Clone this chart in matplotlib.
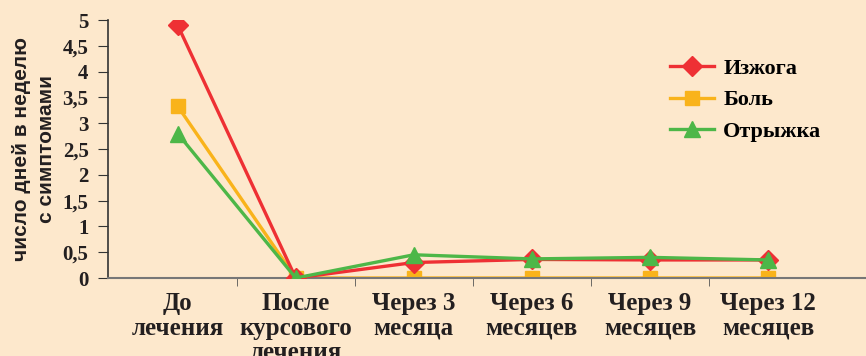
import matplotlib.pyplot as plt
import numpy as np

periods = ["До\nлечения", "После\nкурсового\nлечения", "Через 3\nмесяца",
           "Через 6\nмесяцев", "Через 9\nмесяцев", "Через 12\nмесяцев"]
heartburn = [4.9, 0.0, 0.3, 0.36, 0.35, 0.35]
pain = [3.33, 0.0, 0.0, 0.0, 0.0, 0.0]
belching = [2.8, 0.0, 0.45, 0.37, 0.4, 0.35]
yticks = [0, 0.5, 1, 1.5, 2, 2.5, 3, 3.5, 4, 4.5, 5]

bg = "#fde8cc"
ink = "#231f20"
serif = "Liberation Serif"

fig = plt.figure(figsize=(8.66, 3.56), dpi=100, facecolor=bg)
ax = fig.add_axes([108 / 866, 1 - 278 / 356, 1 - 108 / 866, (278 - 20) / 356])
ax.set_facecolor(bg)

x = np.arange(len(periods))
ax.plot(x, heartburn, color="#ee3034", lw=2.4, marker="D", ms=10, label="Изжога", zorder=3)
ax.plot(x, pain, color="#f9b31b", lw=2.4, marker="s", ms=10, label="Боль", zorder=2)
ax.plot(x, belching, color="#4db748", lw=2.4, marker="^", ms=12, label="Отрыжка", zorder=4)

ax.set_ylim(0, 5)
ax.set_xlim(-0.59, 5.83)
ax.set_yticks(yticks)
ax.set_yticklabels([("%g" % v).replace(".", ",") for v in yticks],
                   fontfamily=serif, fontweight="bold", fontsize=15, color=ink)
ax.set_xticks(x)
ax.set_xticklabels(periods, fontfamily=serif, fontweight="bold", fontsize=18,
                   linespacing=1.1, color=ink)
ax.set_xticks(np.arange(0.5, 5, 1), minor=True)
ax.tick_params(axis="x", which="major", length=0, pad=10)
ax.tick_params(axis="x", which="minor", length=6, direction="out", color="#555555")
ax.tick_params(axis="y", length=7, direction="out", color="#333333", pad=7)

for s in ("top", "right"):
    ax.spines[s].set_visible(False)
ax.spines["left"].set_color("#333333")
ax.spines["bottom"].set_color("#777777")
ax.spines["left"].set_linewidth(1.2)
ax.spines["bottom"].set_linewidth(1.5)

ax.set_ylabel("число дней в неделю\nс симптомами", fontfamily="Liberation Sans",
              fontweight="bold", fontsize=15, linespacing=1.35, labelpad=5, color=ink)

ax.legend(loc="upper left", bbox_to_anchor=(0.715, 0.93), frameon=False,
          prop={"family": serif, "weight": "bold", "size": 16},
          handlelength=2.0, labelspacing=0.5, handletextpad=0.4)

fig.savefig("out.png", dpi=100, facecolor=bg)
